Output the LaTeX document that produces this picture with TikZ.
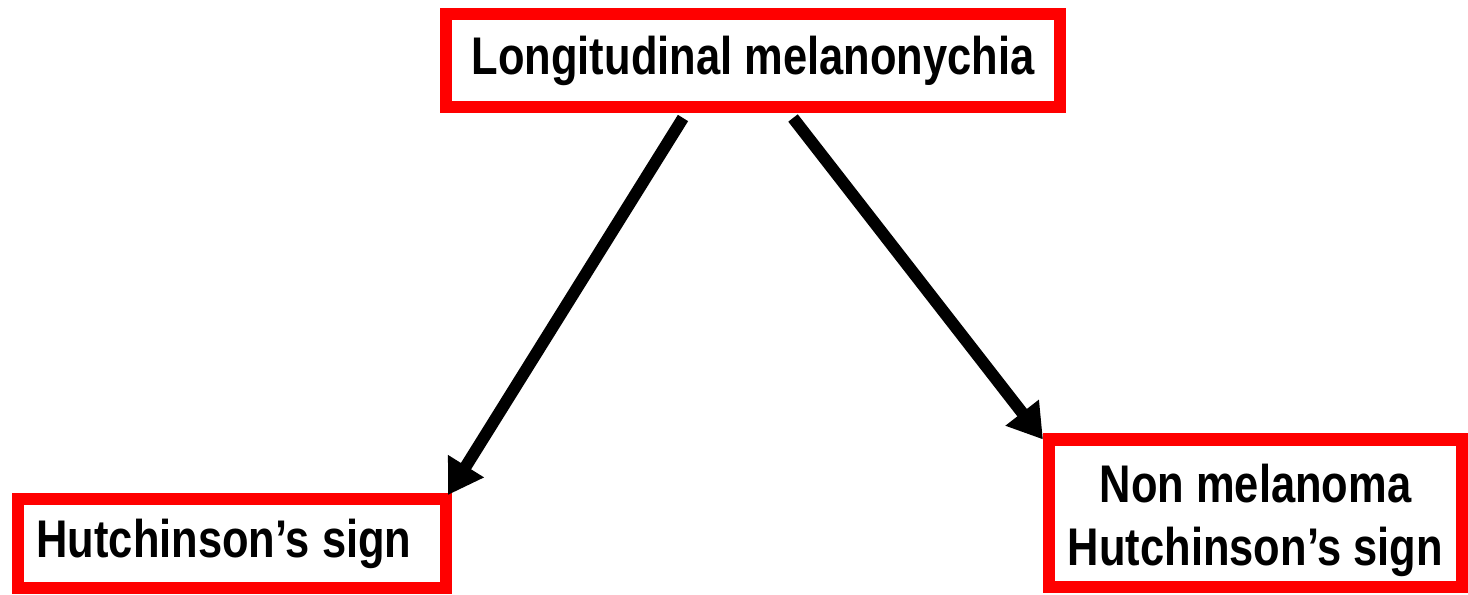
\documentclass[tikz,border=0pt]{standalone}
\usepackage{fontspec}
\setmainfont{Liberation Sans}[FakeStretch=0.82]
\usetikzlibrary{arrows.meta}
\tikzset{
  redbox/.style={draw=red, line width=6bp, fill=white, inner sep=0pt,
    font=\bfseries\fontsize{26.5bp}{31.5bp}\selectfont, align=center},
  boxtext/.style={inner sep=0pt,
    font=\bfseries\fontsize{26.5bp}{31.5bp}\selectfont, align=center},
  flow/.style={line width=6bp, draw=black,
    -{Triangle[length=17bp,width=20bp]}}
}
\begin{document}
\begin{tikzpicture}[x=0.5bp,y=-0.5bp]
  \fill[white] (0,0) rectangle (1468,595);
  \useasboundingbox (0,0) rectangle (1468,595);

  \node[redbox, minimum width=307bp, minimum height=46.5bp] (top)
    at (753,60.5) {Longitudinal melanonychia};
  \node[redbox, minimum width=214bp, minimum height=44.5bp] (left)
    at (232,543.5) {\hspace*{-8bp}Hutchinson’s sign};
  \node[redbox, minimum width=206.5bp, minimum height=73.5bp] (right)
    at (1255.5,513) {};
  \node[boxtext] (righttext) at ([yshift=-3.5bp]right.center)
    {Non melanoma\\Hutchinson’s sign};

  \draw[flow] ([xshift=-35bp,yshift=-2.5bp]top.south) -- ([xshift=-2bp,yshift=-1bp]left.north east);
  \draw[flow] ([xshift=20bp,yshift=-2.5bp]top.south) -- ([yshift=-3bp]right.north west);
\end{tikzpicture}
\end{document}
